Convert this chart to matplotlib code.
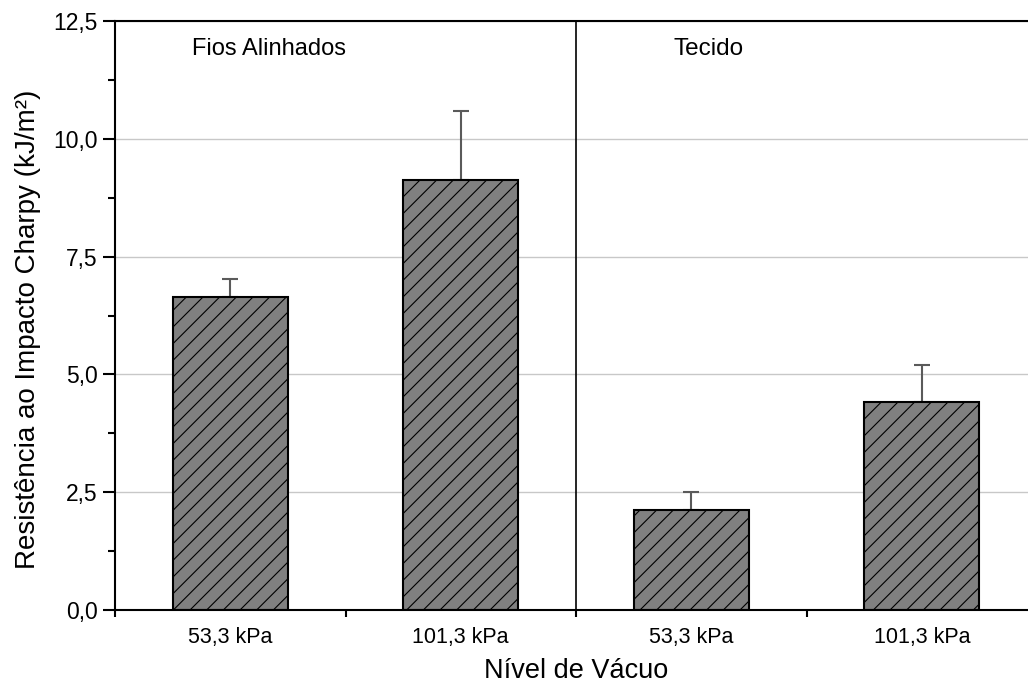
import matplotlib
matplotlib.use("Agg")
import matplotlib.pyplot as plt
from matplotlib.ticker import FixedLocator, FixedFormatter, MultipleLocator

plt.rcParams['font.family'] = ['Liberation Sans', 'DejaVu Sans']
plt.rcParams['hatch.linewidth'] = 0.8
plt.rcParams['hatch.color'] = 'black'

# Charpy impact strength by vacuum level, for aligned yarns and fabric
groups = ["Fios Alinhados", "Tecido"]
categories = ["53,3 kPa", "101,3 kPa", "53,3 kPa", "101,3 kPa"]
means = [6.65, 9.13, 2.12, 4.41]
errors = [0.37, 1.45, 0.38, 0.79]
yticks = [0.0, 2.5, 5.0, 7.5, 10.0, 12.5]
ytick_labels = ["0,0", "2,5", "5,0", "7,5", "10,0", "12,5"]

fig = plt.figure(figsize=(10.28, 6.85), dpi=100)
ax = fig.add_axes([115 / 1028, 75 / 685, 922 / 1028, 589 / 685])

x = list(range(len(categories)))
ax.set_axisbelow(True)
ax.yaxis.grid(True, color='#c8c8c8', linewidth=1.0)

ax.bar(x, means, width=0.5, color='#808080', edgecolor='black',
       linewidth=1.5, hatch='//', zorder=2)
ax.errorbar(x, means, yerr=[[0] * len(errors), errors], fmt='none',
            ecolor='#5a5a5a', elinewidth=1.5, capsize=6, capthick=1.5,
            zorder=1)

# divider between the two reinforcement types
ax.axvline(1.5, color='black', linewidth=1.2, zorder=3)

ax.set_xlim(-0.5, 3.5)
ax.set_ylim(0, 12.5)

ax.yaxis.set_major_locator(FixedLocator(yticks))
ax.yaxis.set_major_formatter(FixedFormatter(ytick_labels))
ax.yaxis.set_minor_locator(MultipleLocator(1.25))
ax.tick_params(axis='y', which='major', direction='out', length=8.5,
               width=1.5, labelsize=16.5, pad=4)
ax.tick_params(axis='y', which='minor', direction='out', length=5,
               width=1.5)

ax.xaxis.set_major_locator(FixedLocator([-0.5, 0.5, 1.5, 2.5, 3.5]))
ax.xaxis.set_major_formatter(FixedFormatter([""] * 5))
ax.xaxis.set_minor_locator(FixedLocator(x))
ax.xaxis.set_minor_formatter(FixedFormatter(categories))
ax.tick_params(axis='x', which='major', direction='out', length=5,
               width=1.5)
ax.tick_params(axis='x', which='minor', length=0, labelsize=15.5, pad=12)

for side in ['left', 'top', 'bottom']:
    ax.spines[side].set_linewidth(1.5)
ax.spines['right'].set_visible(False)

ax.text(-0.165, 11.9, groups[0], fontsize=17, ha='left', va='center')
ax.text(1.925, 11.9, groups[1], fontsize=17.5, ha='left', va='center')

ax.set_xlabel("Nível de Vácuo", fontsize=19.5)
ax.xaxis.set_label_coords(0.5, -0.081)
ax.set_ylabel("Resistência ao Impacto Charpy (kJ/m²)", fontsize=20)
ax.yaxis.set_label_coords(-0.08, 0.477)

fig.savefig("out.png", dpi=100)
